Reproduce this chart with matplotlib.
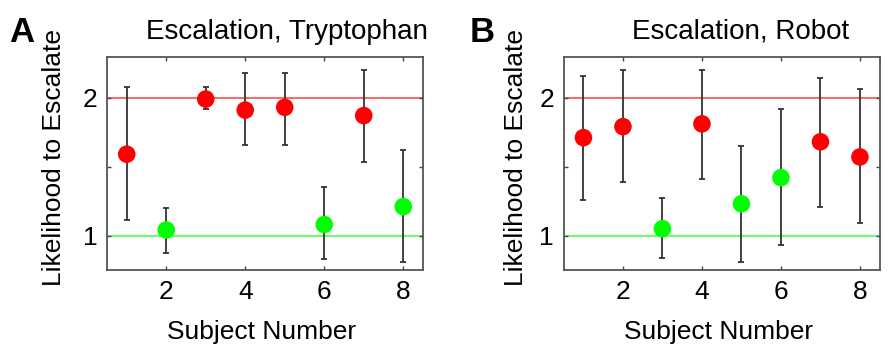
import matplotlib
matplotlib.use("Agg")
import matplotlib.pyplot as plt

plt.rcParams['font.family'] = ['Liberation Sans', 'DejaVu Sans']

subjects = [1, 2, 3, 4, 5, 6, 7, 8]

# Panel A: Escalation, Tryptophan
trp_mean = [1.59, 1.04, 1.99, 1.91, 1.93, 1.08, 1.87, 1.21]
trp_upper = [2.08, 1.20, 2.08, 2.18, 2.18, 1.35, 2.20, 1.62]
trp_lower = [1.11, 0.87, 1.92, 1.66, 1.66, 0.83, 1.53, 0.81]
trp_escalate = [True, False, True, True, True, False, True, False]

# Panel B: Escalation, Robot
rob_mean = [1.71, 1.79, 1.05, 1.81, 1.23, 1.42, 1.68, 1.57]
rob_upper = [2.16, 2.20, 1.27, 2.20, 1.65, 1.92, 2.14, 2.06]
rob_lower = [1.26, 1.39, 0.84, 1.41, 0.81, 0.93, 1.21, 1.09]
rob_escalate = [True, True, False, True, False, False, True, True]

titles = ["Escalation, Tryptophan", "Escalation, Robot"]
panel_letters = ["A", "B"]
xticks = [2, 4, 6, 8]
yticks = [1, 1.5, 2]
ytick_labels = ["1", "", "2"]

fig = plt.figure(figsize=(8.92, 3.58), dpi=100)
W, H = 892, 358
lefts = [107 / W, 563.7 / W]
ax_w = 316 / W
ax_b = 1 - 270 / H
ax_h = 213 / H

datasets = [(trp_mean, trp_upper, trp_lower, trp_escalate),
            (rob_mean, rob_upper, rob_lower, rob_escalate)]
title_x = [287 / W, 741 / W]
ylabel_x = [54 / W, 516 / W]
letter_x = [9 / W, 470 / W]

for i, (mean, up, lo, esc) in enumerate(datasets):
    ax = fig.add_axes([lefts[i], ax_b, ax_w, ax_h])
    ax.axhline(2, color='#ff5a5a', lw=1.3, zorder=1)
    ax.axhline(1, color='#5aff5a', lw=1.3, zorder=1)
    yerr = [[m - l for m, l in zip(mean, lo)], [u - m for m, u in zip(mean, up)]]
    ax.errorbar(subjects, mean, yerr=yerr, fmt='none', ecolor='#333333',
                elinewidth=1.3, capsize=2.5, capthick=1.3, zorder=2)
    colors = ['#ff0000' if e else '#00ff00' for e in esc]
    ax.scatter(subjects, mean, s=160, c=colors, edgecolors='none', zorder=3)
    ax.set_xlim(0.5, 8.5)
    ax.set_ylim(0.75, 2.295)
    ax.set_xticks(xticks)
    ax.set_xticklabels([str(t) for t in xticks])
    ax.set_yticks(yticks)
    ax.set_yticklabels(ytick_labels)
    ax.tick_params(direction='in', length=3, width=1, color='#444444',
                   top=True, right=True, labelsize=19, pad=7)
    for s in ax.spines.values():
        s.set_color('#555555')
        s.set_linewidth(1.3)
    fig.text((lefts[i] + ax_w / 2) - 3 / W, 1 - 332 / H, "Subject Number",
             fontsize=19, ha='center', va='center')
    fig.text(ylabel_x[i], 1 - 157 / H, "Likelihood to Escalate", rotation=90,
             fontsize=19, ha='center', va='center')
    fig.text(title_x[i], 1 - 32 / H, titles[i], fontsize=20,
             ha='center', va='center')
    fig.text(letter_x[i], 1 - 33 / H, panel_letters[i], fontsize=25,
             fontweight='bold', ha='left', va='center')

fig.savefig("out.png", dpi=100)
